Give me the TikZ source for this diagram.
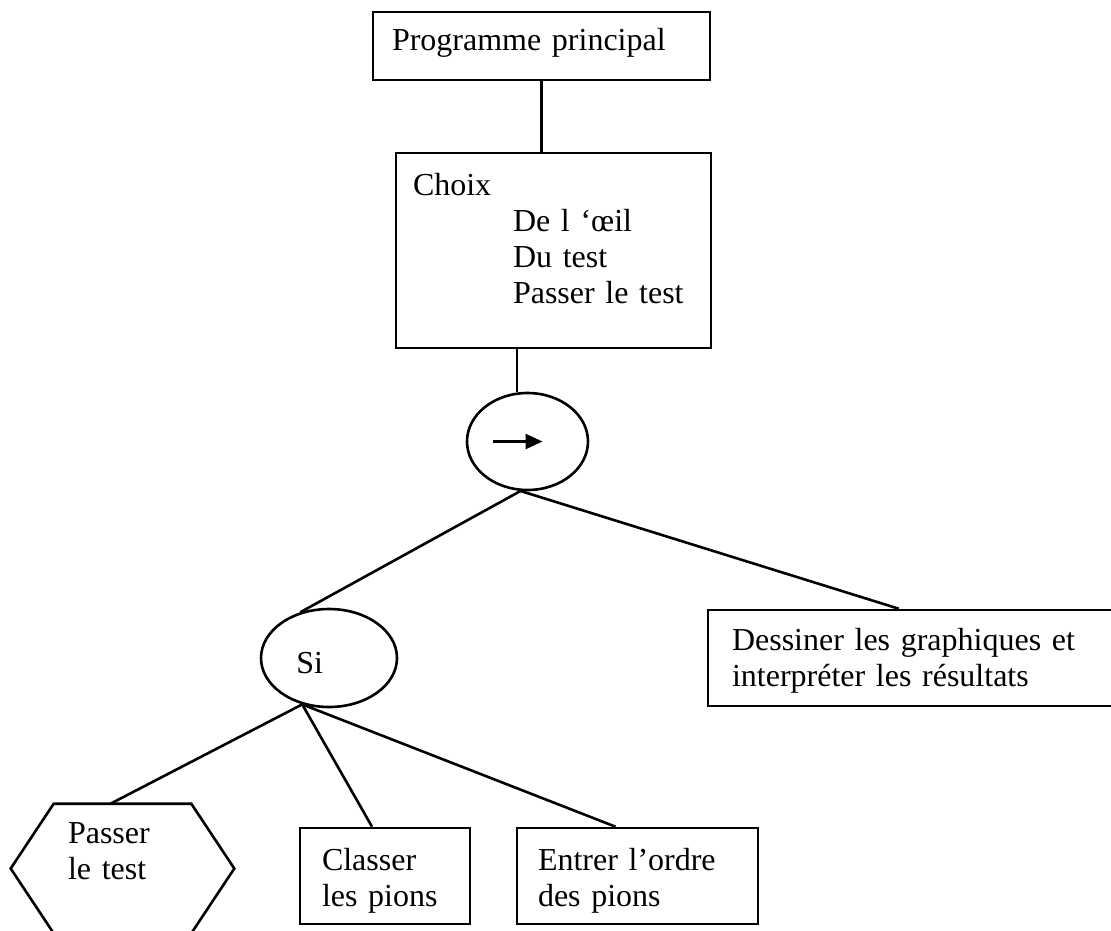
\documentclass[tikz,border=0pt]{standalone}
\usepackage{fontspec}
\setmainfont{Liberation Serif}
\usepackage{tikz}
\usetikzlibrary{shapes.geometric,arrows.meta}

\begin{document}
\begin{tikzpicture}[x=1pt, y=-1pt, line width=2.6pt,
    every node/.style={font=\fontsize{32}{36}\selectfont},
    box/.style={draw, rectangle, align=left, inner ysep=0pt},
    oval/.style={draw, ellipse, inner sep=0pt}]
    \useasboundingbox (0,0) rectangle (1111,930);

    % Main program and menu
    \node[box, minimum width=337pt, minimum height=68pt, inner xsep=19pt, text width=299pt, text depth=14pt] (prog) at (541.5,46) {Programme principal};
    \node[box, minimum width=315pt, minimum height=195pt, inner xsep=17pt, text width=281pt, text depth=133pt] (choix) at (553.5,250.5)
        {Choix\\\hspace*{100pt}De l ‘œil\\\hspace*{100pt}Du test\\\hspace*{100pt}Passer le test};

    % Sequence
    \node[oval, minimum width=121pt, minimum height=97pt] (seq) at (527.5,441.5) {};
    \draw[-{Triangle[length=17pt,width=15pt]}] ([xshift=-35pt]seq.center) -- ([xshift=15pt]seq.center);

    % Condition
    \node[oval, minimum width=136pt, minimum height=98pt] (si) at (329,658) {};
    \node[anchor=base west, inner sep=0pt] (sitext) at ([xshift=-34pt,yshift=-15pt]si.center) {Si};

    \node[box, minimum width=422pt, minimum height=96pt, inner xsep=24pt, text width=374pt, text depth=38pt] (res) at (919,658)
        {Dessiner les graphiques et\\interpréter les résultats};

    % Leaves
    \node[inner sep=0pt, minimum width=221pt, minimum height=127pt, inner xsep=56pt, text width=109pt, align=left, text depth=70pt] (hex) at (122.5,868.5) {Passer\\le test};
    \draw ([xshift=43pt]hex.north west) -- ([xshift=-43pt]hex.north east) -- (hex.east)
        -- ([xshift=-43pt]hex.south east) -- ([xshift=43pt]hex.south west) -- (hex.west) -- cycle;
    \node[box, minimum width=170pt, minimum height=96pt, inner xsep=22pt, text width=126pt, text depth=34pt] (cls) at (385,876) {Classer\\les pions};
    \node[box, minimum width=241pt, minimum height=96pt, inner xsep=21pt, text width=199pt, text depth=34pt] (ent) at (637.5,876) {Entrer l’ordre\\des pions};

    % Links
    \draw (prog.south) -- (prog.south |- choix.north);
    \draw (seq.102 |- choix.south) -- (seq.102);
    \draw (seq.262) -- (si.122);
    \draw (seq.262) -- ([xshift=192pt]res.north west);
    \draw (si.240) -- ([xshift=-12pt]hex.north);
    \draw (si.240) -- ([xshift=-13pt]cls.north);
    \draw (si.240) -- ([xshift=-22pt]ent.north);
\end{tikzpicture}
\end{document}
